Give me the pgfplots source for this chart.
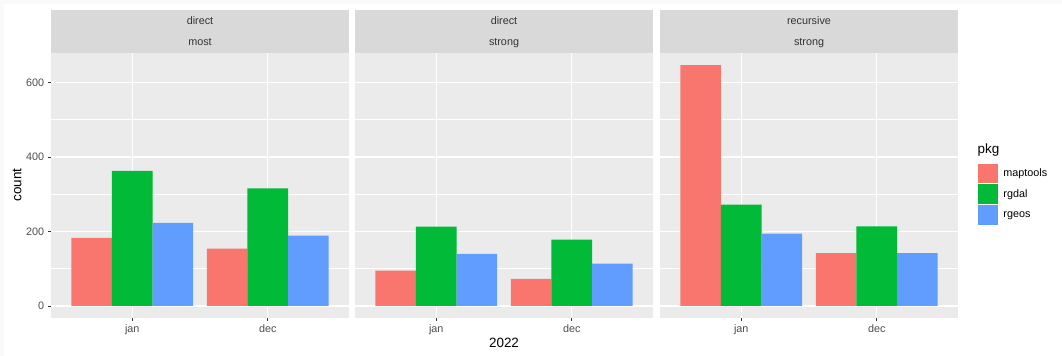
\documentclass[border=0pt]{standalone}
\usepackage{pgfplots}
\pgfplotsset{compat=1.18}
\usepackage{fontspec}
\setmainfont{Liberation Sans}

\definecolor{cMap}{HTML}{F8766D}
\definecolor{cGdal}{HTML}{00BA38}
\definecolor{cGeos}{HTML}{619CFF}
\definecolor{panelbg}{HTML}{EBEBEB}
\definecolor{stripbg}{HTML}{D9D9D9}
\definecolor{ticktxt}{HTML}{4D4D4D}
\definecolor{tickcol}{HTML}{333333}

\newcommand{\ticksize}{\fontsize{8.1}{9}\selectfont}
\newcommand{\titlesize}{\fontsize{10.1}{11}\selectfont}

\pgfplotsset{
  facet/.style={
    scale only axis,
    width=298*0.75pt, height=265*0.75pt,
    anchor=south west,
    xmin=0.4, xmax=2.6,
    ymin=-32.35, ymax=679.35,
    axis line style={draw=none},
    axis background/.style={fill=panelbg},
    xtick={1,2}, xticklabels={jan,dec},
    ytick={0,200,400,600},
    minor ytick={100,300,500},
    grid=both,
    major grid style={white, line width=1.1pt},
    minor grid style={white, line width=0.55pt},
    tick align=outside,
    xtick pos=bottom, ytick pos=left,
    major tick length=2.2pt,
    minor tick length=0pt,
    tick style={tickcol, line width=0.55pt},
    ticklabel style={font=\ticksize, text=ticktxt},
    /pgf/number format/assume math mode=true,
    xticklabel style={yshift=0.5pt},
    yticklabel style={xshift=0.5pt},
    ybar, bar width=0.3,
    clip=true,
  },
  noy/.style={yticklabels={}, ytick style={draw=none}},
  mapbar/.style={fill=cMap, draw=none, bar shift=-0.3},
  gdalbar/.style={fill=cGdal, draw=none, bar shift=0},
  geosbar/.style={fill=cGeos, draw=none, bar shift=0.3},
}

\begin{document}
\begin{tikzpicture}[x=0.75pt, y=0.75pt]
  % page background
  \fill[white!98!black] (0,0) rectangle (1062,356);
  \fill[white] (4,0) rectangle (1062,352);

  % panel 1: direct / most
  \begin{axis}[facet, at={(51*0.75pt,38*0.75pt)}]
    \addplot[mapbar]  coordinates {(1,183) (2,154)};
    \addplot[gdalbar] coordinates {(1,363) (2,316)};
    \addplot[geosbar] coordinates {(1,223) (2,189)};
  \end{axis}

  % panel 2: direct / strong
  \begin{axis}[facet, noy, at={(355*0.75pt,38*0.75pt)}]
    \addplot[mapbar]  coordinates {(1,95) (2,73)};
    \addplot[gdalbar] coordinates {(1,213) (2,178)};
    \addplot[geosbar] coordinates {(1,140) (2,114)};
  \end{axis}

  % panel 3: recursive / strong, carries the legend
  \begin{axis}[facet, noy, at={(660*0.75pt,38*0.75pt)},
      legend style={draw=none, fill=none, at={(1.054,0.594)}, anchor=north west,
        font=\ticksize, row sep=0.9pt,
        /tikz/every node/.append style={inner sep=0pt},
        cells={anchor=west}},
      legend image code/.code={\fill[#1] (0pt,-7.4pt) rectangle (14.8pt,7.4pt);},
      legend cell align=left]
    \addplot[mapbar]  coordinates {(1,647) (2,142)};
    \addlegendentry{\hspace{4pt}maptools}
    \addplot[gdalbar] coordinates {(1,272) (2,214)};
    \addlegendentry{\hspace{4pt}rgdal}
    \addplot[geosbar] coordinates {(1,194) (2,142)};
    \addlegendentry{\hspace{4pt}rgeos}
  \end{axis}

  % facet strips
  \foreach \x/\a/\b in {51/direct/most, 355/direct/strong, 660/recursive/strong}{
    \fill[stripbg] (\x,303) rectangle (\x+298,346);
    \node[font=\ticksize, text=black!80, anchor=base] at (\x+149,331) {\a};
    \node[font=\ticksize, text=black!80, anchor=base] at (\x+149,310) {\b};
  }

  % axis titles and legend title
  \node[font=\titlesize, rotate=90] at (17,171) {count};
  \node[font=\titlesize] at (504,13) {2022};
  \node[font=\titlesize, anchor=west] at (973,206) {pkg};
\end{tikzpicture}
\end{document}
